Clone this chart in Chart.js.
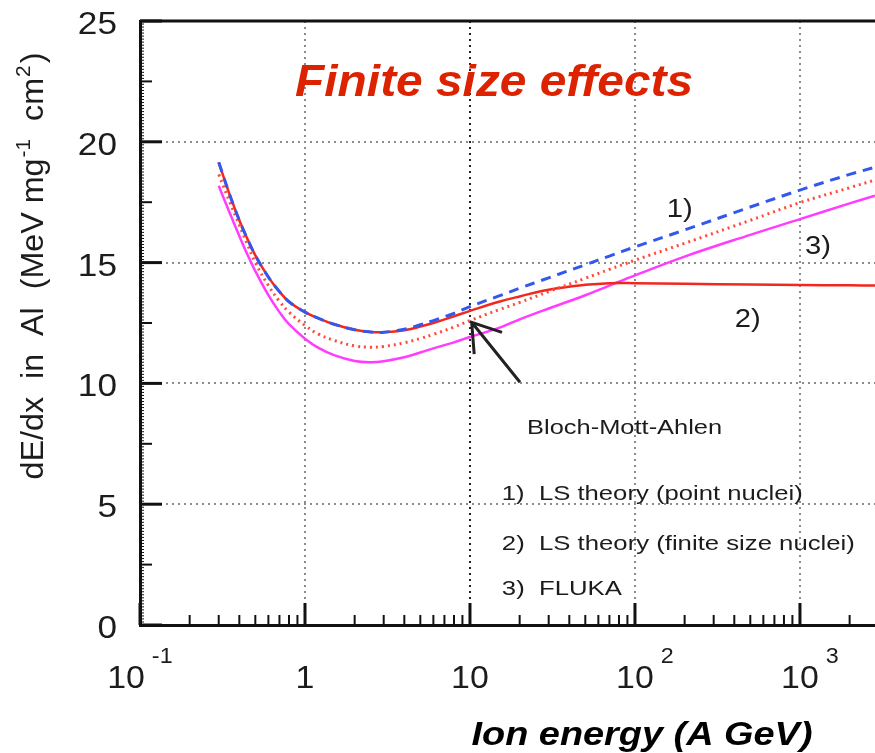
<!DOCTYPE html>
<html>
<head>
<meta charset="utf-8">
<script src="https://cdn.jsdelivr.net/npm/chart.js@4.4.1/dist/chart.umd.min.js"></script>
<style>
  html, body { margin: 0; padding: 0; background: #fff; }
  #wrap { width: 875px; height: 753px; }
</style>
</head>
<body>
<div id="wrap"><canvas id="chart" width="875" height="753"></canvas></div>
<script>
// ion energy (A GeV) and dE/dx in Al (MeV mg^-1 cm^2)
const energies       = [0.3, 0.35, 0.4, 0.45, 0.5, 0.6, 0.7, 0.8, 1, 1.2, 1.5, 2, 2.5, 3, 4, 5, 6, 8, 10, 15, 20, 30, 50, 70, 100, 200, 500, 1000, 2000, 2850];
const lsPoint        = [19.15, 17.8, 16.75, 15.95, 15.3, 14.4, 13.8, 13.38, 12.95, 12.7, 12.45, 12.22, 12.13, 12.12, 12.24, 12.43, 12.6, 12.9, 13.18, 13.62, 13.94, 14.37, 14.91, 15.27, 15.65, 16.35, 17.3, 18.0, 18.65, 18.95];
const lsFinite       = [19.15, 17.8, 16.75, 15.95, 15.3, 14.4, 13.8, 13.38, 12.95, 12.7, 12.45, 12.22, 12.13, 12.12, 12.2, 12.35, 12.5, 12.78, 13.0, 13.38, 13.6, 13.88, 14.08, 14.15, 14.15, 14.12, 14.09, 14.07, 14.06, 14.05];
const blochMottAhlen = [18.65, 17.5, 16.55, 15.72, 15.0, 14.05, 13.4, 12.95, 12.4, 12.05, 11.78, 11.55, 11.5, 11.53, 11.68, 11.86, 12.03, 12.33, 12.6, 13.05, 13.35, 13.8, 14.35, 14.72, 15.1, 15.8, 16.75, 17.48, 18.1, 18.42];
const fluka          = [18.18, 17.05, 16.1, 15.3, 14.65, 13.65, 12.95, 12.45, 11.85, 11.48, 11.17, 10.93, 10.88, 10.92, 11.08, 11.28, 11.45, 11.7, 11.92, 12.3, 12.65, 13.1, 13.65, 14.05, 14.47, 15.25, 16.15, 16.8, 17.45, 17.77];

const xDecades   = [0.1, 1, 10, 100, 1000];
const xTickBase  = ['10', '1', '10', '10', '10'];
const xTickExp   = ['-1', '', '', '2', '3'];
const yTickVals  = [0, 5, 10, 15, 20, 25];
const legendRows = ['1)  LS theory (point nuclei)', '2)  LS theory (finite size nuclei)', '3)  FLUKA'];

const FONT = "'Liberation Sans', Arial, Helvetica, sans-serif";
const INK = '#1c1c1c';

const pts = (arr) => energies.map((e, i) => ({x: e, y: arr[i]}));

const isDecade = (v) => {
    const l = Math.log10(v);
    return Math.abs(l - Math.round(l)) < 1e-6;
};

// draw a run of text pieces (for superscripts), optionally squeezed to a width
function drawRuns(ctx, runs, x, y, opts) {
    ctx.save();
    let total = 0;
    runs.forEach(r => {
        ctx.font = r.font;
        r.w = ctx.measureText(r.text).width;
        total += r.w + (r.gap || 0);
    });
    const sx = opts.width ? opts.width / total : (opts.sx || 1);
    ctx.translate(x, y);
    if (opts.rotate) ctx.rotate(opts.rotate);
    ctx.scale(sx, 1);
    let cx = 0;
    if (opts.align === 'center') cx = -total / 2;
    if (opts.align === 'right') cx = -total;
    ctx.fillStyle = opts.color || INK;
    ctx.textAlign = 'left';
    ctx.textBaseline = 'alphabetic';
    runs.forEach(r => {
        cx += (r.gap || 0);
        ctx.font = r.font;
        ctx.fillText(r.text, cx, r.dy || 0);
        cx += r.w;
    });
    ctx.restore();
}

function drawText(ctx, text, x, y, font, opts) {
    drawRuns(ctx, [{text: text, font: font}], x, y, opts);
}

const framePlugin = {
    id: 'frame',
    afterDatasetsDraw(chart) {
        const {ctx, chartArea: a, scales: {x, y}} = chart;
        ctx.save();
        ctx.strokeStyle = '#111';
        ctx.lineCap = 'butt';

        // top frame line
        ctx.lineWidth = 3;
        ctx.beginPath();
        ctx.moveTo(a.left, a.top);
        ctx.lineTo(a.right, a.top);
        ctx.stroke();

        // y axis ticks pointing inwards
        for (let v = 0; v <= 25.001; v += 0.125) {
            const py = y.getPixelForValue(v);
            let len = 4, lw = 1;
            if (Math.abs(v / 5 - Math.round(v / 5)) < 1e-6) { len = 22; lw = 3; }
            else if (Math.abs(v / 2.5 - Math.round(v / 2.5)) < 1e-6) { len = 12; lw = 2; }
            ctx.lineWidth = lw;
            ctx.beginPath();
            ctx.moveTo(a.left, py);
            ctx.lineTo(a.left + len, py);
            ctx.stroke();
        }

        // x axis ticks pointing inwards
        xDecades.forEach(d => {
            for (let k = 1; k <= 9; k++) {
                const v = d * k;
                if (v > x.max) break;
                const px = x.getPixelForValue(v);
                ctx.lineWidth = k === 1 ? 3 : 2;
                ctx.beginPath();
                ctx.moveTo(px, a.bottom);
                ctx.lineTo(px, a.bottom - (k === 1 ? 22 : 10));
                ctx.stroke();
            }
        });
        ctx.restore();
    },
    afterDraw(chart) {
        const {ctx, chartArea: a, scales: {x, y}} = chart;

        // y tick labels
        yTickVals.forEach(v => {
            drawText(ctx, String(v), a.left - 23, y.getPixelForValue(v) + 13, '32px ' + FONT,
                {align: 'right', sx: 1.1});
        });

        // x tick labels, powers of ten
        xDecades.forEach((d, i) => {
            const shift = i === 0 ? -14 : 0;
            const cx = x.getPixelForValue(d) + shift;
            drawText(ctx, xTickBase[i], cx, a.bottom + 63, '32px ' + FONT, {align: 'center', sx: 1.06});
            if (xTickExp[i]) {
                ctx.save();
                ctx.font = '32px ' + FONT;
                const half = ctx.measureText(xTickBase[i]).width * 1.06 / 2;
                ctx.restore();
                drawText(ctx, xTickExp[i], cx + half + 7, a.bottom + 38, '22px ' + FONT, {align: 'left', sx: 1.06});
            }
        });

        // axis titles
        drawText(ctx, 'Ion energy (A GeV)', 642, a.bottom + 120, 'italic bold 33px ' + FONT,
            {align: 'center', width: 341, color: '#000'});
        drawRuns(ctx, [
            {text: 'dE/dx  in  Al  (MeV mg', font: '31px ' + FONT},
            {text: '-1', font: '20px ' + FONT, dy: -13, gap: 1},
            {text: '  cm', font: '31px ' + FONT},
            {text: '2', font: '20px ' + FONT, dy: -13, gap: 1},
            {text: ')', font: '31px ' + FONT, gap: 2}
        ], 43, 266, {align: 'center', rotate: -Math.PI / 2, width: 427});

        // title inside the frame
        drawText(ctx, 'Finite size effects', x.getPixelForValue(14), y.getPixelForValue(21.9),
            'italic bold 44px ' + FONT, {align: 'center', width: 398, color: '#dd2200'});

        // curve labels
        drawText(ctx, '1)', x.getPixelForValue(156), y.getPixelForValue(16.87), '25px ' + FONT, {width: 26});
        drawText(ctx, '2)', x.getPixelForValue(403), y.getPixelForValue(12.33), '25px ' + FONT, {width: 26});
        drawText(ctx, '3)', x.getPixelForValue(1072), y.getPixelForValue(15.36), '25px ' + FONT, {width: 26});

        // Bloch-Mott-Ahlen arrow
        const tx = x.getPixelForValue(10.24), ty = y.getPixelForValue(12.53);
        const fx = x.getPixelForValue(20.1), fy = y.getPixelForValue(10.05);
        const ang = Math.atan2(fy - ty, fx - tx);
        ctx.save();
        ctx.strokeStyle = '#222';
        ctx.lineWidth = 3;
        ctx.beginPath();
        ctx.moveTo(fx, fy);
        ctx.lineTo(tx, ty);
        ctx.moveTo(tx + 32 * Math.cos(ang - 0.57), ty + 32 * Math.sin(ang - 0.57));
        ctx.lineTo(tx, ty);
        ctx.lineTo(tx + 32 * Math.cos(ang + 0.6), ty + 32 * Math.sin(ang + 0.6));
        ctx.stroke();
        ctx.restore();

        drawText(ctx, 'Bloch-Mott-Ahlen', x.getPixelForValue(22.2), y.getPixelForValue(7.92), '21px ' + FONT, {width: 195});

        // legend text block
        const rowY = [5.17, 3.10, 1.24];
        const rowW = [301, 353, 120];
        legendRows.forEach((t, i) => {
            drawText(ctx, t, x.getPixelForValue(15.6), y.getPixelForValue(rowY[i]), '21px ' + FONT, {width: rowW[i]});
        });
    }
};

const gridGray = '#8c8c8c';

function xGridColor(c) {
    const v = c.tick && c.tick.value;
    if (!v || v < 0.5 || !isDecade(v)) return 'rgba(0,0,0,0)';
    return Math.abs(v - 10) < 1e-6 ? '#222' : gridGray;
}

new Chart(document.getElementById('chart'), {
    type: 'line',
    data: {
        datasets: [
            {label: 'LS theory (point nuclei)', data: pts(lsPoint), borderColor: '#3457ee', borderWidth: 3, borderDash: [10, 7]},
            {label: 'Bloch-Mott-Ahlen', data: pts(blochMottAhlen), borderColor: '#ff4a3a', borderWidth: 3, borderDash: [2, 4]},
            {label: 'LS theory (finite size nuclei)', data: pts(lsFinite), borderColor: '#f0281e', borderWidth: 2.5},
            {label: 'FLUKA', data: pts(fluka), borderColor: '#ff3cff', borderWidth: 2.5}
        ]
    },
    options: {
        responsive: false,
        animation: false,
        devicePixelRatio: 1,
        layout: {padding: {left: 140, top: 21, right: 0, bottom: 128}},
        elements: {
            point: {radius: 0},
            line: {tension: 0.4, fill: false}
        },
        plugins: {
            legend: {display: false},
            tooltip: {enabled: false},
            title: {display: false}
        },
        scales: {
            x: {
                type: 'logarithmic',
                min: 0.1,
                max: 2850,
                ticks: {display: false},
                grid: {drawTicks: false, lineWidth: 2, color: xGridColor},
                border: {display: true, color: '#111', width: 3, dash: [2, 4]}
            },
            y: {
                type: 'linear',
                min: 0,
                max: 25,
                ticks: {display: false, stepSize: 5},
                grid: {
                    drawTicks: false,
                    lineWidth: 2,
                    color: (c) => (c.tick && c.tick.value > 0 && c.tick.value < 25) ? gridGray : 'rgba(0,0,0,0)'
                },
                border: {display: true, color: '#111', width: 3, dash: [2, 4]}
            }
        }
    },
    plugins: [framePlugin]
});
</script>
</body>
</html>
